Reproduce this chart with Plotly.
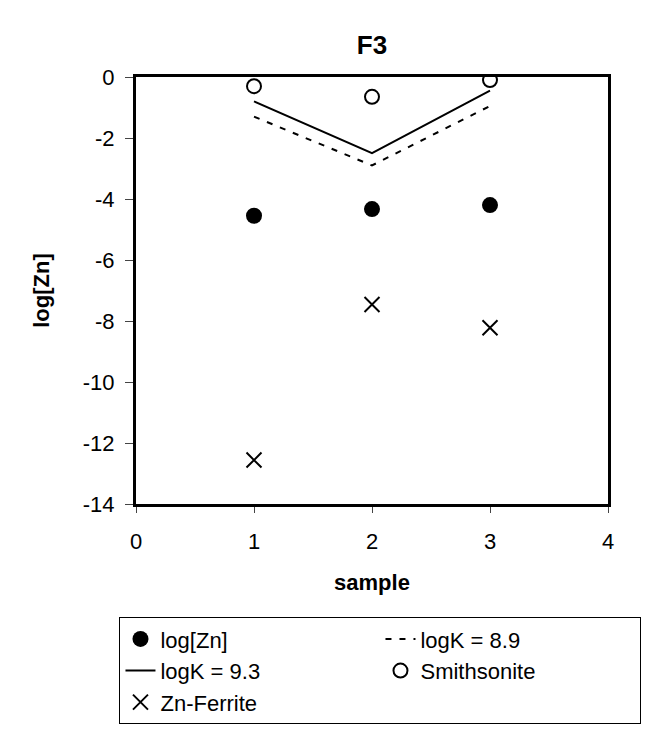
import plotly.graph_objects as go

# values
samples = [1, 2, 3]
log_zn = [-4.55, -4.33, -4.2]
logk_93 = [-0.8, -2.5, -0.45]
logk_89 = [-1.3, -2.9, -0.95]
smithsonite = [-0.3, -0.65, -0.1]
zn_ferrite = [-12.56, -7.46, -8.22]

x_ticks = [0, 1, 2, 3, 4]
y_ticks = [0, -2, -4, -6, -8, -10, -12, -14]

font_family = "Arial, Liberation Sans, sans-serif"

fig = go.Figure()
fig.add_trace(go.Scatter(
    x=samples, y=log_zn, mode="markers", name="log[Zn]",
    marker=dict(symbol="circle", size=16, color="black"),
))
fig.add_trace(go.Scatter(
    x=samples, y=logk_89, mode="lines", name="logK = 8.9",
    line=dict(color="black", width=2, dash="6px,8px"),
))
fig.add_trace(go.Scatter(
    x=samples, y=logk_93, mode="lines", name="logK = 9.3",
    line=dict(color="black", width=2),
))
fig.add_trace(go.Scatter(
    x=samples, y=smithsonite, mode="markers", name="Smithsonite",
    marker=dict(symbol="circle-open", size=14, color="black", line=dict(width=2)),
))
fig.add_trace(go.Scatter(
    x=samples, y=zn_ferrite, mode="markers", name="Zn-Ferrite",
    marker=dict(symbol="x-thin", size=15, color="black", line=dict(width=2, color="black")),
))

fig.update_layout(
    width=654, height=733,
    margin=dict(l=128, r=54, t=69, b=237),
    paper_bgcolor="white", plot_bgcolor="white",
    font=dict(family=font_family, size=22, color="black"),
    title=dict(text="<b>F3</b>", x=0.5, xref="paper", y=1 - 37 / 733, yref="container",
               yanchor="middle", xanchor="center", font=dict(size=26)),
    showlegend=True,
    legend=dict(
        orientation="h", x=-0.035, xanchor="left", y=-0.265, yanchor="top",
        entrywidth=215, entrywidthmode="pixels",
        bordercolor="black", borderwidth=1, bgcolor="white",
        font=dict(size=22),
    ),
)
fig.update_xaxes(
    range=[0, 4], tickvals=x_ticks, ticktext=[str(v) for v in x_ticks],
    ticks="outside", ticklen=6, tickwidth=1, ticklabelstandoff=10,
    showline=True, linewidth=3, linecolor="black", mirror=True,
    showgrid=False, zeroline=False,
    tickfont=dict(size=22),
    title=dict(text="<b>sample</b>", font=dict(size=22), standoff=22),
)
fig.update_yaxes(
    range=[-14, 0], tickvals=y_ticks, ticktext=[str(v) for v in y_ticks],
    ticks="outside", ticklen=8, tickwidth=1, ticklabelstandoff=6,
    showline=True, linewidth=3, linecolor="black", mirror=True,
    showgrid=False, zeroline=False,
    tickfont=dict(size=22),
    title=dict(text="<b>log[Zn]</b>", font=dict(size=22), standoff=28),
)

fig.write_html("out.html")
